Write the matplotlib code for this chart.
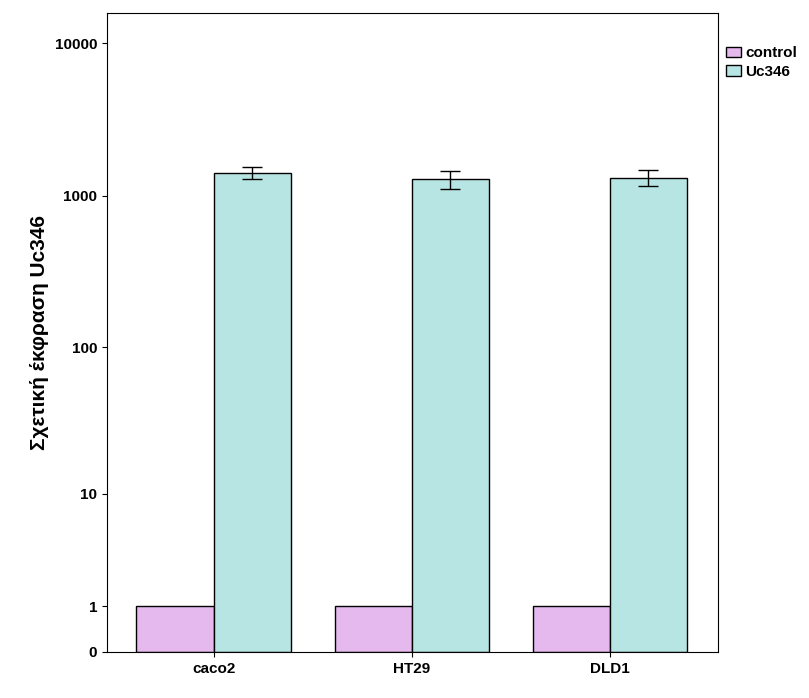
import numpy as np
import matplotlib
matplotlib.use("Agg")
import matplotlib.pyplot as plt

plt.rcParams["font.family"] = "Liberation Sans"

cells = ["caco2", "HT29", "DLD1"]
control = [1, 1, 1]
uc346 = [1416, 1275, 1313]
uc346_err = [135, 170, 165]
yticks = [0, 1, 10, 100, 1000, 10000]

fwd = lambda v: np.log10(1 + np.clip(v, 0, None))
inv = lambda v: 10 ** v - 1

fig = plt.figure(figsize=(8.09, 6.98), dpi=100)
ax = fig.add_axes([0.132, 0.066, 0.7555, 0.915])
ax.set_yscale("function", functions=(fwd, inv))

x = np.arange(len(cells))
w = 0.39
ax.bar(x - w / 2, control, w, color="#E5B8EE", edgecolor="black", linewidth=1, label="control")
ax.bar(x + w / 2, uc346, w, color="#B7E5E3", edgecolor="black", linewidth=1, label="Uc346")
ax.errorbar(x + w / 2, uc346, yerr=uc346_err, fmt="none", ecolor="black", capsize=7, elinewidth=1)

ax.set_xlim(-0.54, 2.546)
ax.set_ylim(0, 15800)
ax.set_yticks(yticks)
ax.set_yticklabels([str(t) for t in yticks], fontweight="bold", fontsize=11)
ax.yaxis.set_minor_locator(matplotlib.ticker.NullLocator())
ax.set_xticks(x)
ax.set_xticklabels(cells, fontweight="bold", fontsize=11)
ax.set_ylabel("Σχετική έκφραση Uc346", fontweight="bold", fontsize=15)
ax.legend(loc="upper left", bbox_to_anchor=(1.0, 0.96), frameon=False,
          prop={"weight": "bold", "size": 11}, handlelength=1.0, handletextpad=0.3,
          labelspacing=0.3, borderaxespad=0.1)

fig.savefig("out.png", dpi=100)
